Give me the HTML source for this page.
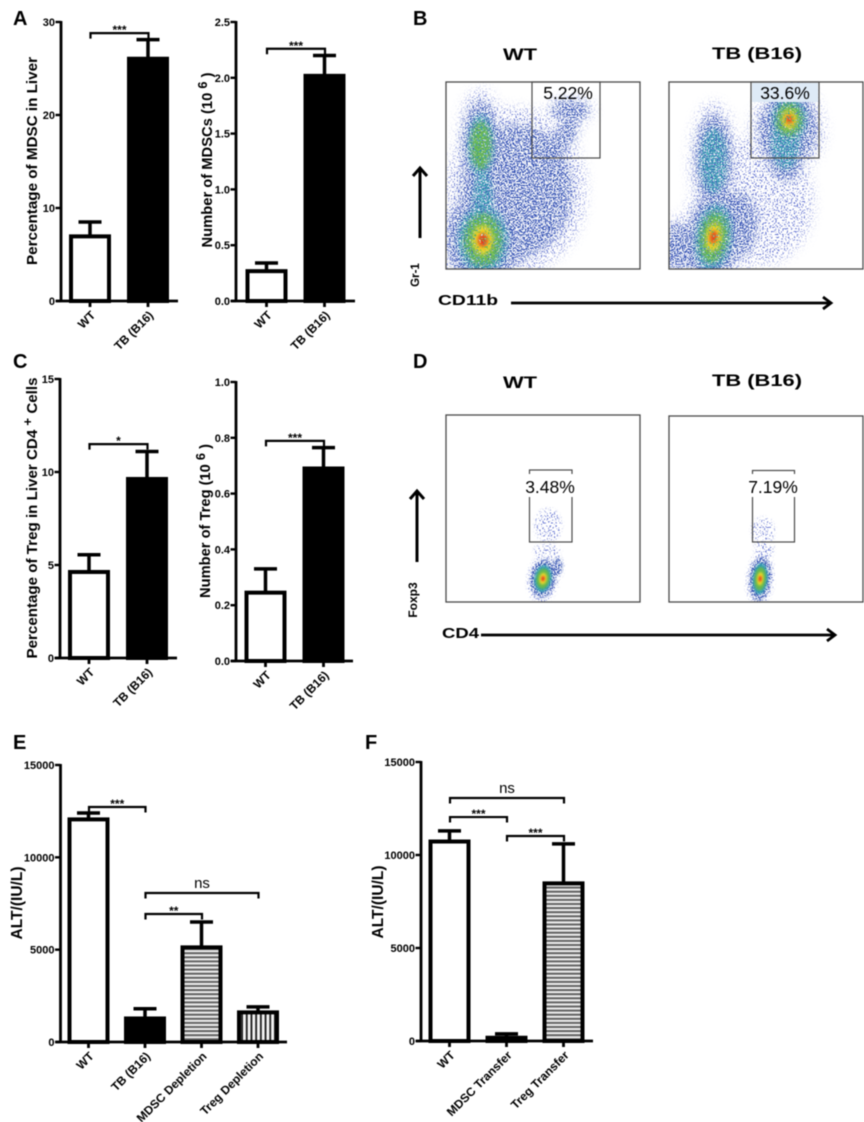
<!DOCTYPE html>
<html lang="en">
<head>
<meta charset="utf-8">
<title>MDSC and Treg figure</title>
<style>
html,body{margin:0;padding:0;background:#fff;}
#figure{display:block;width:864px;height:1122px;filter:blur(0.4px);font-family:"Liberation Sans",Arial,sans-serif;}
text{font-family:"Liberation Sans",Arial,sans-serif;fill:#000;}
.letter{font-size:20px;font-weight:bold;}
.ytitle{font-size:15px;font-weight:bold;text-anchor:middle;}
.flowtitle{font-size:17px;font-weight:bold;text-anchor:middle;}
.pct{font-size:17.5px;text-anchor:middle;}
</style>
</head>
<body>
<svg id="figure" xmlns="http://www.w3.org/2000/svg" width="864" height="1122" viewBox="0 0 864 1122">
<defs>
  <pattern id="hatch-h" patternUnits="userSpaceOnUse" width="6" height="4.1">
    <rect width="6" height="4.1" fill="#efefef"/>
    <rect y="1" width="6" height="2" fill="#5e5e5e"/>
  </pattern>
  <pattern id="hatch-v" patternUnits="userSpaceOnUse" width="4.7" height="6">
    <rect width="4.7" height="6" fill="#f4f4f4"/>
    <rect x="1.4" width="1.9" height="6" fill="#222"/>
  </pattern>

  <filter id="wide-sparse" filterUnits="userSpaceOnUse" x="0" y="0" width="864" height="1122">
    <feGaussianBlur in="SourceGraphic" stdDeviation="6" result="soft"/>
    <feTurbulence type="fractalNoise" baseFrequency="0.7" numOctaves="1" seed="4" result="noise"/>
    <feColorMatrix in="noise" type="matrix" values="0 0 0 0 0  0 0 0 0 0  0 0 0 0 0  12 0 0 0 -6.6" result="mask"/>
    <feComposite in="soft" in2="mask" operator="in"/>
  </filter>
  <filter id="wide-dense" filterUnits="userSpaceOnUse" x="0" y="0" width="864" height="1122">
    <feGaussianBlur in="SourceGraphic" stdDeviation="4" result="soft"/>
    <feTurbulence type="fractalNoise" baseFrequency="0.75" numOctaves="1" seed="11" result="noise"/>
    <feColorMatrix in="noise" type="matrix" values="0 0 0 0 0  0 0 0 0 0  0 0 0 0 0  12 0 0 0 -6" result="mask"/>
    <feComposite in="soft" in2="mask" operator="in"/>
  </filter>
  <filter id="wide-mid" filterUnits="userSpaceOnUse" x="0" y="0" width="864" height="1122">
    <feGaussianBlur in="SourceGraphic" stdDeviation="3" result="soft"/>
    <feTurbulence type="fractalNoise" baseFrequency="0.7" numOctaves="1" seed="23" result="noise"/>
    <feColorMatrix in="noise" type="matrix" values="0 0 0 0 0  0 0 0 0 0  0 0 0 0 0  12 0 0 0 -5.4" result="mask"/>
    <feComposite in="soft" in2="mask" operator="in"/>
  </filter>
  <filter id="wide-core" filterUnits="userSpaceOnUse" x="0" y="0" width="864" height="1122">
    <feGaussianBlur in="SourceGraphic" stdDeviation="3" result="soft"/>
    <feTurbulence type="fractalNoise" baseFrequency="0.6" numOctaves="1" seed="31" result="noise"/>
    <feColorMatrix in="noise" type="matrix" values="0 0 0 0 0  0 0 0 0 0  0 0 0 0 0  12 0 0 0 -4.8" result="mask"/>
    <feComposite in="soft" in2="mask" operator="in"/>
  </filter>
  <filter id="wide-heart" filterUnits="userSpaceOnUse" x="0" y="0" width="864" height="1122">
    <feGaussianBlur in="SourceGraphic" stdDeviation="2" result="soft"/>
    <feTurbulence type="fractalNoise" baseFrequency="0.6" numOctaves="1" seed="37" result="noise"/>
    <feColorMatrix in="noise" type="matrix" values="0 0 0 0 0  0 0 0 0 0  0 0 0 0 0  12 0 0 0 -4.4" result="mask"/>
    <feComposite in="soft" in2="mask" operator="in"/>
  </filter>
  <filter id="fine-sparse" filterUnits="userSpaceOnUse" x="0" y="0" width="864" height="1122">
    <feGaussianBlur in="SourceGraphic" stdDeviation="1.8" result="soft"/>
    <feTurbulence type="fractalNoise" baseFrequency="0.7" numOctaves="1" seed="7" result="noise"/>
    <feColorMatrix in="noise" type="matrix" values="0 0 0 0 0  0 0 0 0 0  0 0 0 0 0  12 0 0 0 -6.8" result="mask"/>
    <feComposite in="soft" in2="mask" operator="in"/>
  </filter>
  <filter id="fine-dense" filterUnits="userSpaceOnUse" x="0" y="0" width="864" height="1122">
    <feGaussianBlur in="SourceGraphic" stdDeviation="1.2" result="soft"/>
    <feTurbulence type="fractalNoise" baseFrequency="0.75" numOctaves="1" seed="13" result="noise"/>
    <feColorMatrix in="noise" type="matrix" values="0 0 0 0 0  0 0 0 0 0  0 0 0 0 0  12 0 0 0 -5.6" result="mask"/>
    <feComposite in="soft" in2="mask" operator="in"/>
  </filter>
  <filter id="fine-core" filterUnits="userSpaceOnUse" x="0" y="0" width="864" height="1122">
    <feGaussianBlur in="SourceGraphic" stdDeviation="1.1"/>
  </filter>
  <clipPath id="clip-b-wt"><rect x="446" y="82" width="194" height="187"/></clipPath>
  <clipPath id="clip-b-tb"><rect x="669" y="82" width="194" height="187"/></clipPath>
  <clipPath id="clip-d-wt"><rect x="446" y="415" width="194" height="187"/></clipPath>
  <clipPath id="clip-d-tb"><rect x="669" y="416" width="194" height="186"/></clipPath>
</defs>

<rect width="864" height="1122" fill="#fff"/>

<text class="letter" x="13" y="25">A</text>
<text class="letter" x="413" y="25">B</text>
<text class="letter" x="13" y="368">C</text>
<text class="letter" x="413" y="368">D</text>
<text class="letter" x="13" y="749">E</text>
<text class="letter" x="365" y="749">F</text>

<g id="chart-a1"></g>
<g id="chart-a2"></g>
<g id="chart-c1"></g>
<g id="chart-c2"></g>
<g id="chart-e"></g>
<g id="chart-f"></g>

<text class="ytitle" transform="translate(37,161) rotate(-90)" textLength="208" lengthAdjust="spacingAndGlyphs">Percentage of MDSC in Liver</text>
<text class="ytitle" transform="translate(212,160) rotate(-90)" textLength="175" lengthAdjust="spacingAndGlyphs">Number of MDSCs (10 <tspan dy="-5" font-size="13">6</tspan><tspan dy="5"> )</tspan></text>
<text class="ytitle" transform="translate(37,518) rotate(-90)" textLength="281" lengthAdjust="spacingAndGlyphs">Percentage of Treg in Liver CD4 <tspan dy="-5" font-size="13">+</tspan><tspan dy="5"> Cells</tspan></text>
<text class="ytitle" transform="translate(210,521) rotate(-90)" textLength="154" lengthAdjust="spacingAndGlyphs">Number of Treg (10 <tspan dy="-5" font-size="13">6</tspan><tspan dy="5"> )</tspan></text>
<text class="ytitle" style="font-size:16px" transform="translate(22,903) rotate(-90)" textLength="73" lengthAdjust="spacingAndGlyphs">ALT/(IU/L)</text>
<text class="ytitle" style="font-size:16px" transform="translate(383,902) rotate(-90)" textLength="73" lengthAdjust="spacingAndGlyphs">ALT/(IU/L)</text>

<text class="flowtitle" x="520" y="60" textLength="34" lengthAdjust="spacingAndGlyphs">WT</text>
<text class="flowtitle" x="757" y="59" textLength="90" lengthAdjust="spacingAndGlyphs">TB (B16)</text>
<text class="flowtitle" x="520" y="388" textLength="34" lengthAdjust="spacingAndGlyphs">WT</text>
<text class="flowtitle" x="757" y="386" textLength="90" lengthAdjust="spacingAndGlyphs">TB (B16)</text>

<g id="flow-b-wt" clip-path="url(#clip-b-wt)"></g>
<g id="flow-b-tb" clip-path="url(#clip-b-tb)"></g>
<g id="flow-d-wt" clip-path="url(#clip-d-wt)"></g>
<g id="flow-d-tb" clip-path="url(#clip-d-tb)"></g>

<rect x="446" y="82" width="194" height="187" fill="none" stroke="#4a4a4a" stroke-width="1.3"/>
<rect x="669" y="82" width="194" height="187" fill="none" stroke="#4a4a4a" stroke-width="1.3"/>
<rect x="446" y="415" width="194" height="187" fill="none" stroke="#4a4a4a" stroke-width="1.3"/>
<rect x="669" y="416" width="194" height="186" fill="none" stroke="#4a4a4a" stroke-width="1.3"/>

<rect x="532" y="82" width="68" height="76" fill="none" stroke="#4a4a4a" stroke-width="1.2"/>
<rect x="751" y="82" width="68" height="76" fill="none" stroke="#4a4a4a" stroke-width="1.2"/>
<rect x="752" y="83" width="66" height="19" fill="#deeaf6"/>
<text class="pct" x="568" y="99">5.22%</text>
<text class="pct" x="785" y="99">33.6%</text>

<rect x="529.5" y="470" width="42.5" height="72" fill="none" stroke="#4a4a4a" stroke-width="1.2"/>
<rect x="752.5" y="470.5" width="42" height="71.5" fill="none" stroke="#4a4a4a" stroke-width="1.2"/>
<rect x="522" y="474" width="56" height="23" fill="#fff"/>
<rect x="745" y="474" width="56" height="23" fill="#fff"/>
<text class="pct" x="550" y="493">3.48%</text>
<text class="pct" x="773" y="493">7.19%</text>

<g fill="none" stroke="#000" stroke-width="3">
  <path d="M420 238V168"/><path d="M413 176L420 168L427 176"/>
</g>
<g fill="none" stroke="#000" stroke-width="3">
  <path d="M417 562V491"/><path d="M410 499L417 491L424 499"/>
</g>
<g fill="none" stroke="#000" stroke-width="2.8">
  <path d="M511 303H831"/><path d="M823 297L831 303L823 309"/>
</g>
<g fill="none" stroke="#000" stroke-width="2.8">
  <path d="M481 635H835"/><path d="M827 629L835 635L827 641"/>
</g>
<text transform="translate(419,275) rotate(-90)" text-anchor="middle" font-size="11.5" font-weight="bold">Gr-1</text>
<text transform="translate(417,600) rotate(-90)" text-anchor="middle" font-size="12" font-weight="bold">Foxp3</text>
<text x="438" y="305" font-size="14.5" font-weight="bold" textLength="60" lengthAdjust="spacingAndGlyphs">CD11b</text>
<text x="442" y="638" font-size="14.5" font-weight="bold" textLength="37" lengthAdjust="spacingAndGlyphs">CD4</text>
</svg>

<script>
// Bar chart data
const a1Categories = ['WT', 'TB (B16)'];
const a1Means = [7.1, 26.2];
const a1ErrorTops = [8.5, 28.1];
const a1TickLabels = ['0', '10', '20', '30'];
const a1BracketFrom = [0];
const a1BracketTo = [1];
const a1BracketLevels = [28.8];
const a1BracketLabels = ['***'];

const a2Categories = ['WT', 'TB (B16)'];
const a2Means = [0.28, 2.03];
const a2ErrorTops = [0.34, 2.2];
const a2TickLabels = ['0.0', '0.5', '1.0', '1.5', '2.0', '2.5'];
const a2BracketFrom = [0];
const a2BracketTo = [1];
const a2BracketLevels = [2.26];
const a2BracketLabels = ['***'];

const c1Categories = ['WT', 'TB (B16)'];
const c1Means = [4.7, 9.7];
const c1ErrorTops = [5.55, 11.1];
const c1TickLabels = ['0', '5', '10', '15'];
const c1BracketFrom = [0];
const c1BracketTo = [1];
const c1BracketLevels = [11.5];
const c1BracketLabels = ['*'];

const c2Categories = ['WT', 'TB (B16)'];
const c2Means = [0.25, 0.695];
const c2ErrorTops = [0.33, 0.765];
const c2TickLabels = ['0.0', '0.2', '0.4', '0.6', '0.8', '1.0'];
const c2BracketFrom = [0];
const c2BracketTo = [1];
const c2BracketLevels = [0.789];
const c2BracketLabels = ['***'];

const eCategories = ['WT', 'TB (B16)', 'MDSC Depletion', 'Treg Depletion'];
const eMeans = [12130, 1350, 5200, 1680];
const eErrorTops = [12400, 1800, 6500, 1900];
const eFills = ['white', 'black', 'hatch-h', 'hatch-v'];
const eTickLabels = ['0', '5000', '10000', '15000'];
const eBracketFrom = [0, 1, 1];
const eBracketTo = [1, 3, 2];
const eBracketLevels = [12725, 8070, 6930];
const eBracketLabels = ['***', 'ns', '**'];

const fCategories = ['WT', 'MDSC Transfer', 'Treg Transfer'];
const fMeans = [10800, 250, 8550];
const fErrorTops = [11300, 380, 10600];
const fFills = ['white', 'black', 'hatch-h'];
const fTickLabels = ['0', '5000', '10000', '15000'];
const fBracketFrom = [0, 0, 1];
const fBracketTo = [2, 1, 2];
const fBracketLevels = [13065, 12040, 11020];
const fBracketLabels = ['ns', '***', '***'];

// Flow cytometry populations, in axis fractions (0..1 of each plot)
const bWtPopCenterX = [0.36, 0.18, 0.19, 0.19, 0.60, 0.64, 0.36];
const bWtPopCenterY = [0.42, 0.66, 0.38, 0.155, 0.70, 0.85, 0.16];
const bWtPopSpreadX = [0.36, 0.12, 0.09, 0.23, 0.06, 0.12, 0.13];
const bWtPopSpreadY = [0.44, 0.30, 0.24, 0.33, 0.15, 0.07, 0.15];
const bWtPopTilt = [0, 0, 0, 0, 35, 0, 0];
const bWtPopPeak = [1, 3, 2, 5, 1, 1, 1];

const bTbPopCenterX = [0.46, 0.23, 0.23, 0.61, 0.60, 0.62, 0.05, 0.35];
const bTbPopCenterY = [0.36, 0.58, 0.17, 0.74, 0.68, 0.80, 0.12, 0.24];
const bTbPopSpreadX = [0.28, 0.12, 0.17, 0.19, 0.13, 0.16, 0.13, 0.13];
const bTbPopSpreadY = [0.34, 0.31, 0.32, 0.22, 0.26, 0.21, 0.15, 0.22];
const bTbPopTilt = [0, 0, 8, 0, 0, 0, 0, 0];
const bTbPopPeak = [0, 2, 5, 1, 2, 5, 1, 1];

const dWtPopCenterX = [0.50, 0.575, 0.527, 0.52];
const dWtPopCenterY = [0.125, 0.19, 0.41, 0.275];
const dWtPopSpreadX = [0.08, 0.03, 0.07, 0.07];
const dWtPopSpreadY = [0.13, 0.06, 0.09, 0.03];
const dWtPopTilt = [8, 0, 0, 0];
const dWtPopPeak = [5, 1, 0, 0];

const dTbPopCenterX = [0.47, 0.485, 0.49];
const dTbPopCenterY = [0.125, 0.385, 0.285];
const dTbPopSpreadX = [0.07, 0.06, 0.05];
const dTbPopSpreadY = [0.15, 0.07, 0.05];
const dTbPopTilt = [5, 0, 0];
const dTbPopPeak = [5, 0, 0];

// Density colour ramp, from sparse blue through to the red core
const densityColors = ['#4a5cc8', '#1c3fa6', '#2f9fb0', '#6cbb45', '#ecd92c', '#e4341a'];
const densityRadii = [1, 0.8, 0.56, 0.42, 0.24, 0.11];

const SVG_NS = 'http://www.w3.org/2000/svg';
const wideFilters = ['wide-sparse', 'wide-dense', 'wide-mid', 'wide-core', 'wide-heart', 'wide-heart'];
const fineFilters = ['fine-sparse', 'fine-dense', 'fine-core', 'fine-core', 'fine-core', 'fine-core'];

function shape(parent, tag, props) {
  const el = document.createElementNS(SVG_NS, tag);
  for (const key in props) { el.setAttribute(key, props[key]); }
  parent.appendChild(el);
  return el;
}

function drawBarChart(layout, categories, means, errorTops, fills, tickLabels, bracketFrom, bracketTo, bracketLevels, bracketLabels) {
  const root = document.getElementById(layout.id);
  const tickValues = tickLabels.map(Number);
  const axisMax = tickValues[tickValues.length - 1];
  const yScale = function (v) { return layout.y0 - (v / axisMax) * (layout.y0 - layout.yTop); };
  const xScale = function (i) { return layout.firstCenter + i * layout.step; };
  const black = '#000';

  categories.forEach(function (name, i) {
    const cx = xScale(i);
    const top = yScale(means[i]);
    const capY = yScale(errorTops[i]);

    const stem = shape(root, 'line', { x1: cx, x2: cx, y1: top, y2: capY, stroke: black, 'stroke-width': 3.5 });
    
    

    const cap = shape(root, 'line', { x1: cx - 11.5, x2: cx + 11.5, y1: capY, y2: capY, stroke: black, 'stroke-width': 3.5 });
    
    

    const fillKind = fills[i];
    const fill = fillKind === 'white' ? '#fff' : fillKind === 'black' ? '#000' : 'url(#' + fillKind + ')';
    const bar = shape(root, 'rect', {
      x: cx - 19, width: 38,
      y: top + 1.4, height: Math.max(layout.y0 - top - 1.4, 0),
      fill: fill, stroke: black, 'stroke-width': 4
    });
    
    

    const tick = shape(root, 'line', { x1: cx, x2: cx, y1: layout.y0, y2: layout.y0 + 6, stroke: black, 'stroke-width': 2.8 });
    
    

    const lx = cx + 6;
    const ly = layout.y0 + 15;
    const label = shape(root, 'text', {
      transform: 'translate(' + lx + ',' + ly + ') rotate(-45)',
      'text-anchor': 'end', 'font-size': layout.labelSize, 'font-weight': 'bold'
    });
    label.textContent = name;
    
    
  });

  const yAxis = shape(root, 'line', { x1: layout.x0, x2: layout.x0, y1: layout.yTop - 1, y2: layout.y0 + 1, stroke: black, 'stroke-width': 2.8 });
  
  

  const xAxis = shape(root, 'line', { x1: layout.x0 - 5, x2: layout.xEnd, y1: layout.y0, y2: layout.y0, stroke: black, 'stroke-width': 2.8 });
  
  

  tickLabels.forEach(function (text, i) {
    const y = yScale(tickValues[i]);
    const tick = shape(root, 'line', { x1: layout.x0 - 5.5, x2: layout.x0, y1: y, y2: y, stroke: black, 'stroke-width': 2.4 });
    
    

    const label = shape(root, 'text', { x: layout.x0 - 6, y: y + 4, 'text-anchor': 'end', 'font-size': 11, 'font-weight': 'bold' });
    label.textContent = text;
    
    
  });

  bracketLabels.forEach(function (text, i) {
    const xa = xScale(bracketFrom[i]) + 0.5;
    const xb = xScale(bracketTo[i]) + 0.5;
    const y = yScale(bracketLevels[i]);
    const bracket = shape(root, 'path', {
      d: 'M' + xa + ' ' + (y + 5.5) + 'V' + y + 'H' + xb + 'V' + (y + 5.5),
      fill: 'none', stroke: black, 'stroke-width': 2.2
    });
    
    

    const isStars = text.charAt(0) === '*';
    const label = shape(root, 'text', {
      x: (xa + xb) / 2, y: isStars ? y + 1 : y - 5,
      'text-anchor': 'middle',
      'font-size': isStars ? 12 : 15,
      'font-weight': isStars ? 'bold' : 'normal'
    });
    label.textContent = text;
    
    
  });
}

function drawFlowPlot(id, box, filters, centerX, centerY, spreadX, spreadY, tilt, peak) {
  const root = document.getElementById(id);
  const xScale = function (v) { return box.x + v * box.w; };
  const yScale = function (v) { return box.y + box.h - v * box.h; };
  const opacities = [0.85, 0.9, 0.9, 0.9, 1, 1];

  densityColors.forEach(function (color, level) {
    const layer = shape(root, 'g', { filter: 'url(#' + filters[level] + ')', opacity: opacities[level] });
    
    

    centerX.forEach(function (cxValue, i) {
      if (peak[i] < level) { return; }
      const cx = xScale(cxValue);
      const cy = yScale(centerY[i]);
      const blob = shape(layer, 'ellipse', {
        cx: cx, cy: cy,
        rx: spreadX[i] * box.w * densityRadii[level],
        ry: spreadY[i] * box.h * densityRadii[level],
        fill: color,
        transform: 'rotate(' + tilt[i] + ' ' + cx + ' ' + cy + ')'
      });
      
      
    });
  });
}

drawBarChart({ id: 'chart-a1', x0: 61, y0: 301, yTop: 22, firstCenter: 90, step: 58, xEnd: 178, labelSize: 12 },
  a1Categories, a1Means, a1ErrorTops, ['white', 'black'], a1TickLabels, a1BracketFrom, a1BracketTo, a1BracketLevels, a1BracketLabels);
drawBarChart({ id: 'chart-a2', x0: 236, y0: 301, yTop: 22, firstCenter: 266.5, step: 58, xEnd: 355, labelSize: 12 },
  a2Categories, a2Means, a2ErrorTops, ['white', 'black'], a2TickLabels, a2BracketFrom, a2BracketTo, a2BracketLevels, a2BracketLabels);
drawBarChart({ id: 'chart-c1', x0: 60, y0: 658, yTop: 379, firstCenter: 89, step: 58, xEnd: 177, labelSize: 12 },
  c1Categories, c1Means, c1ErrorTops, ['white', 'black'], c1TickLabels, c1BracketFrom, c1BracketTo, c1BracketLevels, c1BracketLabels);
drawBarChart({ id: 'chart-c2', x0: 236, y0: 661, yTop: 382, firstCenter: 265.5, step: 58, xEnd: 353, labelSize: 12 },
  c2Categories, c2Means, c2ErrorTops, ['white', 'black'], c2TickLabels, c2BracketFrom, c2BracketTo, c2BracketLevels, c2BracketLabels);
drawBarChart({ id: 'chart-e', x0: 60.5, y0: 1042, yTop: 765, firstCenter: 88.5, step: 56.5, xEnd: 287, labelSize: 12 },
  eCategories, eMeans, eErrorTops, eFills, eTickLabels, eBracketFrom, eBracketTo, eBracketLevels, eBracketLabels);
drawBarChart({ id: 'chart-f', x0: 421, y0: 1041, yTop: 762, firstCenter: 449.5, step: 57, xEnd: 593, labelSize: 12 },
  fCategories, fMeans, fErrorTops, fFills, fTickLabels, fBracketFrom, fBracketTo, fBracketLevels, fBracketLabels);

drawFlowPlot('flow-b-wt', { x: 446, y: 82, w: 194, h: 187 }, wideFilters, bWtPopCenterX, bWtPopCenterY, bWtPopSpreadX, bWtPopSpreadY, bWtPopTilt, bWtPopPeak);
drawFlowPlot('flow-b-tb', { x: 669, y: 82, w: 194, h: 187 }, wideFilters, bTbPopCenterX, bTbPopCenterY, bTbPopSpreadX, bTbPopSpreadY, bTbPopTilt, bTbPopPeak);
drawFlowPlot('flow-d-wt', { x: 446, y: 415, w: 194, h: 187 }, fineFilters, dWtPopCenterX, dWtPopCenterY, dWtPopSpreadX, dWtPopSpreadY, dWtPopTilt, dWtPopPeak);
drawFlowPlot('flow-d-tb', { x: 669, y: 416, w: 194, h: 186 }, fineFilters, dTbPopCenterX, dTbPopCenterY, dTbPopSpreadX, dTbPopSpreadY, dTbPopTilt, dTbPopPeak);
</script>
</body>
</html>
